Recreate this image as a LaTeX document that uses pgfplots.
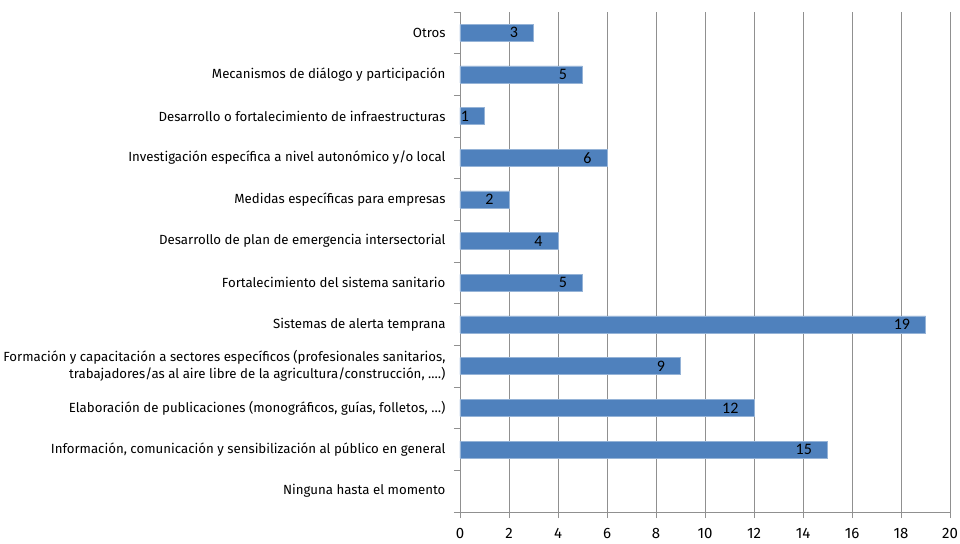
\documentclass[border=0pt]{standalone}
\usepackage{fontspec}
\setmainfont{Fira Sans}
\newfontfamily\carl{Carlito}
\usepackage{pgfplots}
\pgfplotsset{compat=1.18}
\definecolor{barblue}{HTML}{4F81BD}
\definecolor{gridgray}{HTML}{909090}
\begin{document}
\fontsize{13pt}{16pt}\selectfont
\begin{tikzpicture}[x=1pt,y=1pt]
\useasboundingbox (-460,-31) rectangle (500,512);
\begin{axis}[
  at={(0,0)}, anchor=south west,
  scale only axis,
  width=490pt, height=500pt,
  xbar, bar width=17pt,
  xmin=0, xmax=20, xtick={0,2,4,6,8,10,12,14,16,18,20},
  ymin=-0.5, ymax=11.5,
  ytick={0,1,2,3,4,5,6,7,8,9,10,11},
  yticklabels={Ninguna hasta el momento,
    {Información, comunicación y sensibilización al público en general},
    {Elaboración de publicaciones (monográficos, guías, folletos, …)},
    {Formación y capacitación a sectores específicos (profesionales sanitarios,\\trabajadores/as al aire libre de la agricultura/construcción, .…)},
    Sistemas de alerta temprana,
    Fortalecimiento del sistema sanitario,
    Desarrollo de plan de emergencia intersectorial,
    Medidas específicas para empresas,
    Investigación específica a nivel autonómico y/o local,
    Desarrollo o fortalecimiento de infraestructuras,
    Mecanismos de diálogo y participación,
    Otros},
  yticklabel style={align=right, font=\fontsize{13.25pt}{17pt}\selectfont, xshift=-4pt},
  xticklabel style={font=\fontsize{15pt}{16pt}\selectfont, yshift=-6pt},
  major y tick style={draw=none},
  minor ytick={-0.5,0.5,1.5,2.5,3.5,4.5,5.5,6.5,7.5,8.5,9.5,10.5,11.5},
  minor y tick style={draw=gridgray, line width=0.8pt},
  minor tick length=6pt,
  major tick length=6pt,
  tick align=outside,
  x tick style={draw=gridgray, line width=0.8pt},
  xmajorgrids, major grid style={draw=gridgray, line width=0.8pt},
  axis lines*=left,
  axis line style={draw=gridgray, line width=0.8pt, -},
  /pgf/number format/assume math mode=true,
  nodes near coords,
  every node near coord/.append style={anchor=east, xshift=-11pt, font=\carl\fontsize{16pt}{16pt}\selectfont, text=black},
]
\addplot[fill=barblue, draw=barblue!60!white] coordinates {
  (15,1) (12,2) (9,3) (19,4) (5,5) (4,6) (2,7) (6,8) (1,9) (5,10) (3,11)
};
\end{axis}
\end{tikzpicture}
\end{document}
